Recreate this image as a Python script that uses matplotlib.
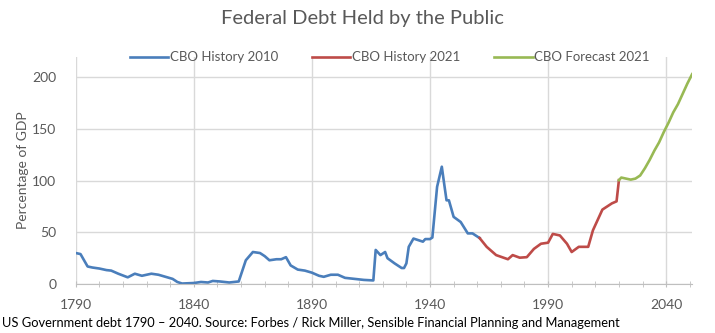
import matplotlib.pyplot as plt
from matplotlib.ticker import MultipleLocator

plt.rcParams['font.family'] = ['Lato', 'DejaVu Sans']

# CBO History 2010 (percentage of GDP)
hist2010_years = [1790, 1792, 1795, 1797, 1800, 1803, 1805, 1808, 1812, 1815, 1818,
                  1822, 1825, 1828, 1831, 1833, 1835, 1840, 1843, 1846, 1848, 1851,
                  1855, 1859, 1862, 1865, 1868, 1870, 1872, 1875, 1877, 1879, 1881,
                  1884, 1887, 1890, 1893, 1895, 1898, 1901, 1904, 1908, 1912, 1916,
                  1917, 1919, 1921, 1922, 1925, 1928, 1929, 1930, 1931, 1933, 1935,
                  1937, 1938, 1940, 1941, 1943, 1945, 1946, 1947, 1948, 1950, 1953,
                  1956, 1958, 1961]
hist2010_vals = [30, 29, 17, 16, 15, 13.5, 13, 10, 6.5, 10, 8,
                 10, 9, 7, 5, 2, 0.5, 1, 2, 1.5, 3, 2.5,
                 1.5, 2.5, 23, 31, 30, 27, 23, 24, 24, 26, 18,
                 14, 13, 11, 8, 7, 9, 9, 6, 5, 4, 3.5,
                 33, 28, 31, 25, 20, 15.5, 15.5, 20, 36, 44, 42.5,
                 41, 43.5, 43.5, 45, 94, 113.5, 97, 81, 81, 65, 60,
                 49, 49, 44.5]

# CBO History 2021
hist2021_years = [1961, 1964, 1968, 1973, 1975, 1978, 1981, 1984, 1987, 1990, 1992,
                  1995, 1998, 2000, 2003, 2006, 2007, 2009, 2013, 2015, 2017, 2019,
                  2020]
hist2021_vals = [44.5, 36, 28, 24, 28, 25.5, 26, 34, 39, 40, 48.5,
                 47, 39, 31, 36, 36, 36, 52, 72, 75, 78, 80,
                 100.5]

# CBO Forecast 2021
fcst2021_years = [2020, 2021, 2023, 2025, 2027, 2029, 2031, 2033, 2035, 2037, 2039,
                  2041, 2043, 2045, 2047, 2049, 2051]
fcst2021_vals = [100.5, 103, 102, 101, 102, 105, 112, 120, 129, 137, 147,
                 156, 166, 174, 184, 194, 203]

fig = plt.figure(figsize=(7.15, 3.33), dpi=100)
ax = fig.add_axes([0.106, 0.147, 0.862, 0.683])

ax.plot(hist2010_years, hist2010_vals, color='#4A7EBB', lw=1.9, label='CBO History 2010',
        solid_joinstyle='round')
ax.plot(hist2021_years, hist2021_vals, color='#BE4B48', lw=1.9, label='CBO History 2021',
        solid_joinstyle='round')
ax.plot(fcst2021_years, fcst2021_vals, color='#98B954', lw=1.9, label='CBO Forecast 2021',
        solid_joinstyle='round')

ax.set_xlim(1790, 2051)
ax.set_ylim(0, 220)
ax.set_yticks([0, 50, 100, 150, 200])
ax.set_xticks([1790, 1840, 1890, 1940, 1990, 2040])
ax.xaxis.set_minor_locator(MultipleLocator(10))

ax.grid(True, which='major', color='#D9D9D9', lw=1)
ax.set_axisbelow(True)
for s in ['top', 'right', 'left']:
    ax.spines[s].set_visible(False)
ax.spines['bottom'].set_color('#BFBFBF')
ax.tick_params(axis='y', length=0, pad=14, labelsize=10, labelcolor='#595959')
ax.tick_params(axis='x', which='both', direction='inout', length=5, color='#BFBFBF',
               pad=8, labelsize=10, labelcolor='#595959')

ax.set_ylabel('Percentage of GDP', fontsize=10, color='#595959', labelpad=2)

fig.text(0.507, 0.945, 'Federal Debt Held by the Public', ha='center', va='center',
         fontsize=14.5, color='#595959')
fig.legend(loc='center', bbox_to_anchor=(0.545, 0.828), ncol=3, frameon=False,
           fontsize=9.5, handlelength=2.9, handletextpad=0.1, columnspacing=2.6,
           labelcolor='#595959')
fig.text(0.003, 0.03, 'US Government debt 1790 \u2013 2040. Source: Forbes / Rick Miller, '
         'Sensible Financial Planning and Management', ha='left', va='center',
         fontsize=9.3, color='black')

fig.savefig('out.png', dpi=100)
